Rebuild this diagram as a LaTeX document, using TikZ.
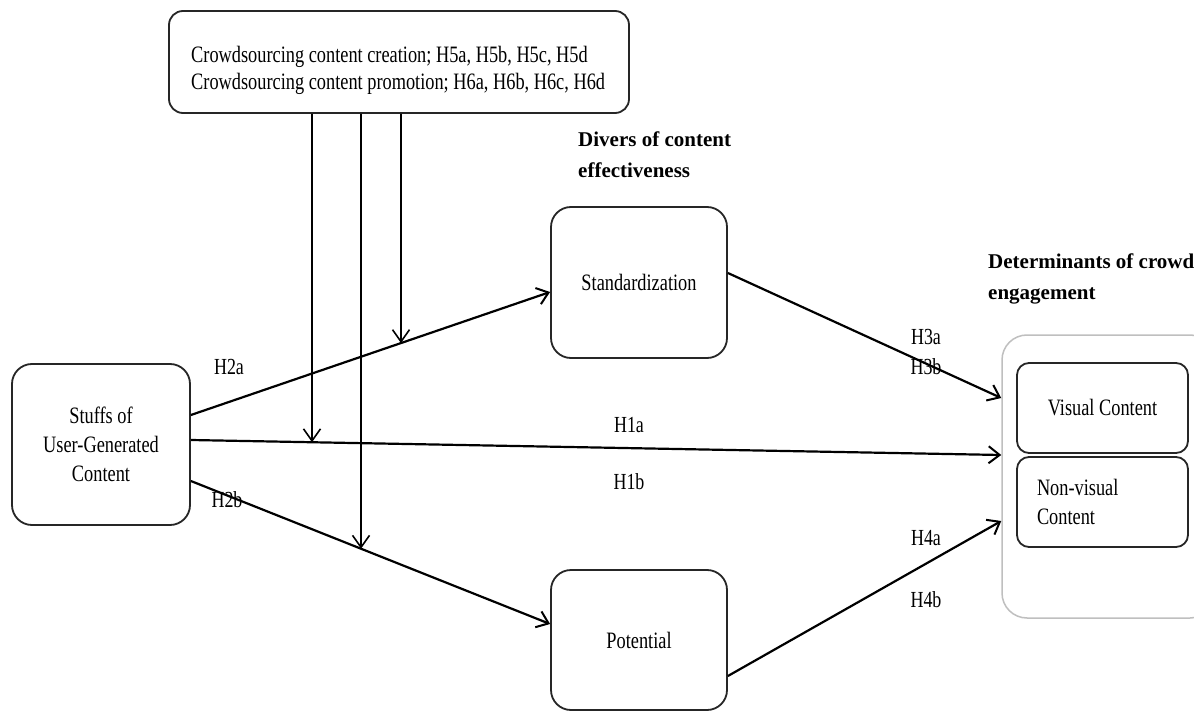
\documentclass[tikz,border=0pt]{standalone}
\usepackage{fontspec}
\setmainfont{Liberation Serif}[FakeStretch=0.78]
\newfontfamily\headfont{Liberation Serif}
\usetikzlibrary{arrows.meta,calc}
\begin{document}
\begin{tikzpicture}[x=1pt,y=-1pt,
  every node/.style={font=\fontsize{23.5}{29}\selectfont, inner sep=0pt},
  box/.style={draw=black!85, line width=1.8pt, rounded corners=20pt, fill=white},
  conn/.style={line width=2.2pt, -{Straight Barb[length=11pt,width=17pt,line width=2pt]}},
  vconn/.style={line width=1.6pt, -{Straight Barb[length=12pt,width=17pt,line width=1.6pt]}},
  lbl/.style={font=\fontsize{23}{26}\selectfont},
  head/.style={font=\headfont\bfseries\fontsize{21}{31}\selectfont, align=left, anchor=base west}]

\useasboundingbox (0,0) rectangle (1194,711);
\fill[white] (0,0) rectangle (1194,711);

% boxes
\node[box, rounded corners=14pt, minimum width=460pt, minimum height=102pt] (mod) at (399,62) {};
\node[anchor=west, align=left, font=\fontsize{23.5}{27}\selectfont] (modtext) at (191,70)
  {Crowdsourcing content creation; H5a, H5b, H5c, H5d\\Crowdsourcing content promotion; H6a, H6b, H6c, H6d};

\node[box, minimum width=178pt, minimum height=161pt, align=center] (ugc) at (101,444.5)
  {Stuffs of\\User-Generated\\Content};
\node[box, minimum width=176pt, minimum height=151pt] (std) at (639,282.5) {Standardization};
\node[box, minimum width=176pt, minimum height=140pt] (pot) at (639,640) {Potential};

\node[draw=black!25, line width=1.5pt, rounded corners=25pt, minimum width=213pt, minimum height=283pt] (eng) at (1108.5,476.5) {};
\node[box, rounded corners=12pt, minimum width=171pt, minimum height=90pt] (vis) at (1102.5,408) {Visual Content};
\node[box, rounded corners=12pt, text width=131pt, inner xsep=20pt, minimum height=90pt, align=left] (nvis) at (1102.5,502) {Non-visual\\Content};

% headings
\node[head] (hd1) at (578,178) {Divers of content\\effectiveness};
\node[head] (hd2) at (988,300) {Determinants of crowd\\engagement};

% connector end points
\coordinate (a2s) at ([yshift=29.5pt]ugc.east);
\coordinate (a2e) at ([yshift=-9.5pt]std.west);
\coordinate (a1s) at ([yshift=4.5pt]ugc.east);
\coordinate (a1e) at ([yshift=21.5pt]eng.west);
\coordinate (b2s) at ([yshift=-36.5pt]ugc.east);
\coordinate (b2e) at ([yshift=16pt]pot.west);
\coordinate (a3s) at ([yshift=9.5pt]std.east);
\coordinate (a3e) at ([yshift=78.5pt]eng.west);
\coordinate (a4s) at ([yshift=-36pt]pot.east);
\coordinate (a4e) at ([yshift=-44.5pt]eng.west);

\draw[conn] (a2s) -- (a2e);
\draw[conn] (a1s) -- (a1e);
\draw[conn] (b2s) -- (b2e);
\draw[conn] (a3s) -- (a3e);
\draw[conn] (a4s) -- (a4e);

% moderating arrows
\coordinate (m1) at (mod.south -| 312,0);
\coordinate (m1b) at (312,700);
\coordinate (m2) at (mod.south -| 361,0);
\coordinate (m2b) at (361,700);
\coordinate (m3) at (mod.south -| 401,0);
\coordinate (m3b) at (401,700);
\coordinate (x1) at (intersection of m1--m1b and a1s--a1e);
\coordinate (x2) at (intersection of m2--m2b and b2s--b2e);
\coordinate (x3) at (intersection of m3--m3b and a2s--a2e);
\draw[vconn] (m1) -- (x1);
\draw[vconn] (m2) -- (x2);
\draw[vconn] (m3) -- (x3);

% labels
\node[lbl] (l2a) at (229,367) {H2a};
\node[lbl] (l2b) at (227,500) {H2b};
\node[lbl] (l1a) at (629,425) {H1a};
\node[lbl] (l1b) at (629,482) {H1b};
\node[lbl] (l3a) at (926,337) {H3a};
\node[lbl] (l3b) at (926,367) {H3b};
\node[lbl] (l4a) at (926,538) {H4a};
\node[lbl] (l4b) at (926,600) {H4b};
\end{tikzpicture}
\end{document}
